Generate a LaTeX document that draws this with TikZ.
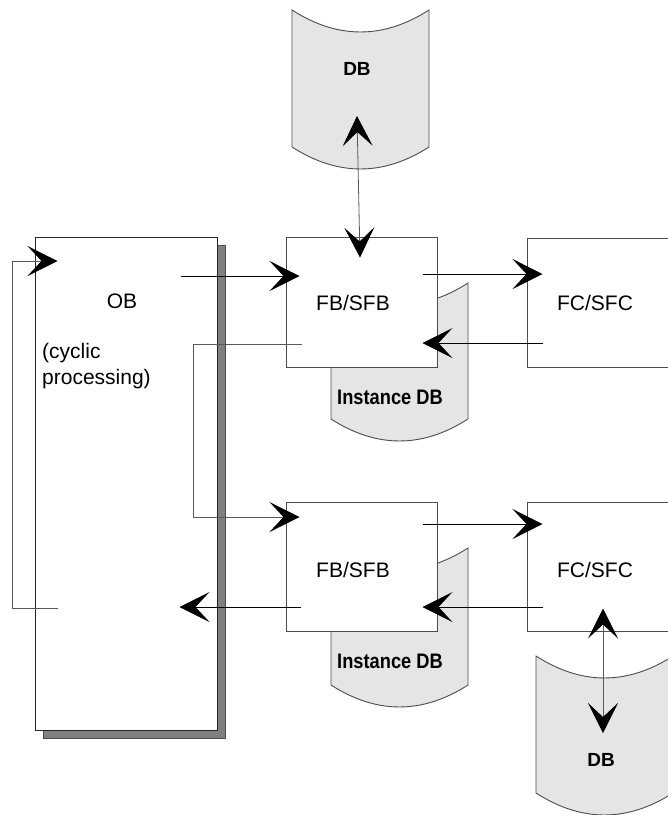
\documentclass[tikz,border=0pt]{standalone}
\usepackage{fontspec}
\setmainfont{Liberation Sans}
\newfontfamily\dbfont[FakeStretch=0.87]{Liberation Sans}
\usetikzlibrary{arrows.meta,shadows}

% data block drawn as a can: left x, top corner y, bottom corner y
\newcommand{\dbcan}[3]{%
  \filldraw[dbcan] (#1,#2) .. controls +(45.7,29.3) and +(-45.7,29.3) .. ({#1+137},#2)
    -- ({#1+137},#3) .. controls +(-45.7,29.3) and +(45.7,29.3) .. (#1,#3) -- cycle;}

\tikzset{
  blockbox/.style={draw=black!70, line width=1pt, fill=white, inner sep=0pt},
  dbcan/.style={draw=black!70, line width=0.9pt, fill=gray!20},
  lbl/.style={font=\fontsize{21}{26}\selectfont, inner sep=0pt},
  dblbl/.style={font=\fontsize{19}{23}\selectfont\bfseries, inner sep=0pt},
  idblbl/.style={font=\fontsize{21}{25}\selectfont\dbfont\bfseries, inner sep=0pt},
  flow/.style={->, line width=0.8pt},
  back/.style={line width=0.8pt, draw=black!65},
}

\begin{document}
\begin{tikzpicture}[x=1pt, y=-1pt, >={Stealth[length=30pt, width=30pt, inset=14pt, color=black]}]
    \clip (0,0) rectangle (668,815);

    % data blocks
    \dbcan{292}{10}{147}
    \dbcan{331}{283}{419}
    \dbcan{331}{548}{685}
    \dbcan{536}{656}{793}

    % blocks
    \node[blockbox, draw=black!85, minimum width=182pt, minimum height=493pt,
          drop shadow={shadow xshift=8pt, shadow yshift=-8pt, fill=gray, draw=black!70, opacity=1}] (ob) at (126,483.5) {};
    \node[blockbox, minimum width=151pt, minimum height=130pt] (fb1) at (361.5,302) {};
    \node[blockbox, minimum width=151pt, minimum height=129pt] (fb2) at (361.5,566.5) {};
    \node[blockbox, minimum width=160pt, minimum height=129pt] (fc1) at (607,302.5) {};
    \node[blockbox, minimum width=160pt, minimum height=129pt] (fc2) at (607,566.5) {};

    % texts
    \node[lbl] (oblab) at (122,301) {OB};
    \node[lbl, anchor=north west, align=left] (obnote) at (42,343) {(cyclic\\processing)};
    \node[lbl] (fb1lab) at (353,303) {FB/SFB};
    \node[lbl] (fb2lab) at (353,569.5) {FB/SFB};
    \node[lbl] (fc1lab) at (595,303) {FC/SFC};
    \node[lbl] (fc2lab) at (595,570) {FC/SFC};
    \node[dblbl] (db1) at (357,69) {DB};
    \node[idblbl] (idb1) at (390,397) {Instance DB};
    \node[idblbl] (idb2) at (390,661) {Instance DB};
    \node[dblbl] (db2) at (601,760) {DB};

    % calls
    \draw[flow] ([xshift=-37pt,yshift=207.5pt]ob.east) -- ([xshift=14pt,yshift=26pt]fb1.west);
    \draw[flow] ([xshift=-15pt,yshift=28pt]fb1.east) -- ([xshift=16pt,yshift=28.5pt]fc1.west);
    \draw[flow] ([xshift=16pt,yshift=-40.5pt]fc1.west) -- ([xshift=-15pt,yshift=-41pt]fb1.east);
    \draw[back, ->] ([xshift=16pt,yshift=-42pt]fb1.west) -- ++(-108,0) |- ([xshift=14pt,yshift=49.5pt]fb2.west);
    \draw[flow] ([xshift=-15pt,yshift=42.5pt]fb2.east) -- ([xshift=16pt,yshift=42.5pt]fc2.west);
    \draw[flow] ([xshift=16pt,yshift=-40.5pt]fc2.west) -- ([xshift=-15pt,yshift=-40.5pt]fb2.east);
    \draw[flow] ([xshift=15pt,yshift=-40.5pt]fb2.west) -- ([xshift=-38pt,yshift=-123.5pt]ob.east);

    % cycle
    \draw[back, ->] ([xshift=23pt,yshift=-124.5pt]ob.west) -- ++(-45,0) |- ([xshift=23pt,yshift=222.5pt]ob.west);

    % data access
    \draw[back, <->] ([yshift=-47pt]db1.center) -- ([xshift=-1.5pt,yshift=-21pt]fb1.north);
    \draw[back, <->] ([xshift=-4pt,yshift=23pt]fc2.south) -- ([xshift=2pt,yshift=27pt]db2.center);
\end{tikzpicture}
\end{document}
